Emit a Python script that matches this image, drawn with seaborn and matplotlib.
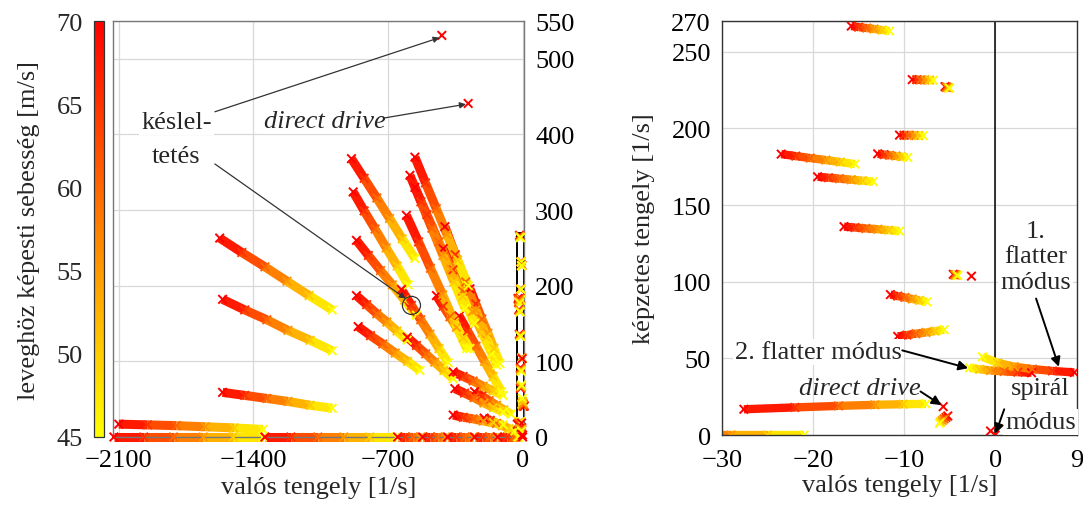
import matplotlib
matplotlib.use("Agg")
import matplotlib.pyplot as plt
import numpy as np
import pandas as pd
import seaborn as sns
from matplotlib.cm import ScalarMappable
from matplotlib.collections import LineCollection
from matplotlib.colors import Normalize
from matplotlib.patches import Rectangle

nan = np.nan

# airspeed of each locus point [m/s], red (70) -> yellow (45)
SPEEDS = [70, 65, 60, 55, 50, 45]

# --- wide view: (real parts, imaginary parts) per branch ---
DELAY = ([-420, nan, nan, nan, nan, nan], [531, nan, nan, nan, nan, nan])
DIRECT_WIDE = ([-283, nan, nan, nan, nan, nan], [441, nan, nan, nan, nan, nan])
P1 = ([-1575, -1460, -1340, -1225, -1110, -990], [263, 244, 225, 206, 187, 168])
P2 = ([-1560, -1445, -1330, -1220, -1105, -990], [182, 168, 155, 141, 128, 114])
P3 = ([-1560, -1445, -1330, -1220, -1105, -990], [59, 55, 51, 47, 42, 38])
P4 = ([-2100, -1950, -1800, -1650, -1500, -1350], [17, 16, 15, 13.5, 12, 10])
RA = ([-2125, -1970, -1815, -1660, -1505, -1350], [0, 0, 0, 0, 0, 0])
RB = ([-1340, -1205, -1065, -930, -795, -656], [0, 0, 0, 0, 0, 0])
S1 = ([-650, -610, -570, -530, nan, nan], [0, 0, 0, 0, nan, nan])
S2 = ([-520, -480, -440, -400, nan, nan], [0, 0, 0, 0, nan, nan])
S3 = ([-390, -345, -300, -257, nan, nan], [0, 0, 0, 0, nan, nan])
S4 = ([-250, -210, -170, -135, nan, nan], [0, 0, 0, 0, nan, nan])
S5 = ([-130, -80, -45, -29, -25, -21], [0, 0, 0, 0, 0, 0])
FA = ([-890, -824, -758, -692, -626, -560], [368, 342, 316, 289, 262, 236])
FB = ([-881, -824, -767, -709, -652, -595], [324, 299, 275, 250, 226, 201])
FC = ([-630, -578, -530, -482, -435, -387], [195, 174, 155, 136, 117, 98])
FD = ([-864, -802, -739, -677, -614, -552], [260, 240, 220, 201, 181, 161])
FE = ([-864, -811, -758, -706, -653, -600], [187, 175, 163, 152, 140, 128])
FF = ([-855, -791, -727, -662, -598, -534], [146, 134, 123, 111, 100, 88])
FG = ([-600, -552, -504, -457, -409, -361], [132, 121, 110, 99, 88, 77])
H1 = ([-560, -505, -449, -394, -338, -283], [370, 336, 302, 268, 234, 200])
H2 = ([-586, -529, -472, -414, -357, -300], [346, 311, 276, 240, 205, 170])
H3 = ([-604, -541, -479, -416, -354, -291], [293, 258, 223, 188, 152, 117])
H5 = ([-560, -498, -436, -374, -312, -250], [330, 294, 258, 222, 186, 150])
H6 = ([-404, -350, -296, -243, -189, -135], [278, 241, 205, 168, 132, 95])
H7 = ([-448, -413, -378, -344, -309, -274], [187, 173, 159, 145, 131, 117])
H8 = ([-274, -243, -212, -180, -149, -118], [196, 176, 156, 137, 117, 97])
H9 = ([-413, -362, -312, -261, -211, -160], [249, 221, 193, 166, 138, 110])
H10 = ([-330, -286, -242, -198, -154, -110], [160, 140, 120, 100, 80, 60])
K1 = ([-361, -309, -257, -205, -153, -101], [86, 80, 74, 67, 61, 55])
K2 = ([-352, -302, -252, -201, -151, -101], [64, 58, 52, 45, 39, 33])
K3 = ([-361, -309, -257, -205, -153, -101], [29, 26, 24, 21, 19, 16])
K4 = ([-250, -212, -174, -136, -98, -60], [60, 54, 48, 42, 36, 30])
K5 = ([-200, -168, -136, -104, -72, -40], [25, 22, 18, 15, 11, 8])

# --- low-frequency modes (visible in the zoomed view) ---
R1 = ([-15.8, -15.0, -14.1, -13.3, -12.4, -11.6], [266.7, 266.0, 265.4, 264.8, 264.1, 263.5])
R2 = ([-9.1, -8.6, -8.2, -7.7, -7.2, -6.8], [231.8, 231.7, 231.6, 231.6, 231.5, 231.4])
R3 = ([-5.5, -5.4, -5.3, -5.2, -5.1, -5.0], [227.2, 227.0, 226.8, 226.6, 226.4, 226.2])
R4 = ([-10.5, -10.0, -9.5, -8.9, -8.4, -7.9], [195.6, 195.5, 195.4, 195.4, 195.3, 195.2])
R5 = ([-12.9, -12.2, -11.6, -10.9, -10.3, -9.6], [183.4, 182.9, 182.4, 182.0, 181.5, 181.0])
R6 = ([-23.5, -21.9, -20.3, -18.6, -17.0, -15.4], [183.2, 181.9, 180.6, 179.3, 178.0, 176.7])
R7 = ([-19.5, -18.3, -17.1, -15.8, -14.6, -13.4], [168.4, 167.8, 167.2, 166.5, 165.9, 165.3])
R8 = ([-16.6, -15.4, -14.2, -12.9, -11.7, -10.5], [135.9, 135.3, 134.7, 134.2, 133.6, 133.0])
R9 = ([-4.6, -4.5, -4.4, -4.3, -4.2, -4.1], [104.8, 104.6, 104.5, 104.4, 104.2, 104.0])
R9B = ([-2.6, nan, nan, nan, nan, nan], [103.6, nan, nan, nan, nan, nan])
R10 = ([-11.5, -10.7, -9.9, -9.1, -8.3, -7.5], [91.6, 90.6, 89.7, 88.7, 87.8, 86.8])
R11 = ([-10.7, -9.7, -8.7, -7.6, -6.6, -5.6], [64.3, 65.2, 66.1, 66.9, 67.8, 68.7])
FLUTTER1 = ([8.7, 6.3, 4.1, 2.1, 0.3, -1.4], [40.8, 41.8, 43.0, 44.6, 47.0, 51.0])
FLUTTER2 = ([4.0, 2.5, 1.0, -0.5, -1.7, -2.8], [40.6, 41.0, 41.5, 42.1, 42.9, 43.8])
DRIVE = ([-27.6, -22.0, -17.2, -13.2, -10.1, -7.6], [16.8, 18.0, 19.0, 19.7, 20.1, 20.3])
DIRECT_ZOOM = ([-5.7, nan, nan, nan, nan, nan], [18.5, nan, nan, nan, nan, nan])
R15 = ([-5.2, -5.4, -5.6, -5.8, -6.0, -6.1], [12.4, 11.5, 10.5, 9.5, 8.5, 7.6])
SPIRAL_A = ([-0.5, nan, nan, nan, nan, nan], [2.6, nan, nan, nan, nan, nan])
SPIRAL_B = ([0.0, nan, nan, nan, nan, nan], [0.0, nan, nan, nan, nan, nan])

BRANCHES = [P4, RA, RB, S1, S2, S3, S4, S5, P3, P2, P1, FF, FE, FG, FD, FB, FC, FA,
            K5, K4, K3, K2, K1, H10, H9, H8, H7, H6, H5, H3, H2, H1, DELAY, DIRECT_WIDE,
            R1, R2, R3, R4, R5, R6, R7, R8, R9, R9B, R10, R11, FLUTTER2, FLUTTER1,
            DRIVE, DIRECT_ZOOM, R15, SPIRAL_A, SPIRAL_B]

rows = []
for k, (re, im) in enumerate(BRANCHES):
    for s, x, y in zip(SPEEDS, re, im):
        if not np.isnan(x):
            rows.append({"branch": k, "speed": s, "re": x, "im": y})
loci = pd.DataFrame(rows)

CMAP = plt.get_cmap("autumn_r")
NORM = Normalize(45, 70)
FS = 19


def draw_loci(ax, lw, clip):
    for _, g in loci.groupby("branch", sort=False):
        if len(g) < 2:
            continue
        pts = g[["re", "im"]].to_numpy()
        segs = np.stack([pts[:-1], pts[1:]], axis=1)
        mid = (g["speed"].to_numpy()[:-1] + g["speed"].to_numpy()[1:]) / 2
        lc = LineCollection(segs, colors=CMAP(NORM(mid)), linewidths=lw,
                            capstyle="butt", zorder=2)
        lc.set_clip_on(clip)
        ax.add_collection(lc)
    sns.scatterplot(data=loci, x="re", y="im", hue="speed", palette="autumn_r",
                    hue_norm=(45, 70), marker="x", s=38, linewidth=1.4,
                    legend=False, ax=ax, zorder=3, clip_on=clip)


sns.set_theme(style="whitegrid")
plt.rcParams.update({
    "font.family": ["Liberation Serif", "DejaVu Serif"],
    "mathtext.fontset": "stix",
    "axes.unicode_minus": True,
})

fig = plt.figure(figsize=(10.83, 5.06), dpi=100)
ax1 = fig.add_axes([0.1043, 0.1344, 0.3795, 0.8221])
cax = fig.add_axes([0.0868, 0.1344, 0.0092, 0.8221])
ax2 = fig.add_axes([0.6667, 0.1383, 0.3278, 0.8182])

for ax in (ax1, ax2):
    ax.set_facecolor("white")
    ax.grid(True, color="#d8d8d8", linewidth=0.9)
    for sp in ax.spines.values():
        sp.set_color("#777777")
        sp.set_linewidth(1.0)
    ax.tick_params(labelsize=FS, length=0, colors="black")

# ---- left: full root locus ----
draw_loci(ax1, 6.5, clip=False)
ax1.add_patch(Rectangle((-30, 0), 39, 270, fill=False, edgecolor="black", lw=1.4, zorder=2.5))
ax1.set_xlim(-2130, 7)
ax1.set_ylim(0, 550)
ax1.set_xticks([-2100, -1400, -700, 0])
ax1.set_yticks([0, 100, 200, 300, 400, 500, 550])
ax1.yaxis.tick_right()
ax1.tick_params(axis="y", pad=8)
ax1.tick_params(axis="x", pad=9)
ax1.set_xlabel("valós tengely [1/s]", fontsize=FS, labelpad=3)
ax1.set_ylabel("")

box = dict(facecolor="white", edgecolor="none", pad=1.5)
thin = dict(arrowstyle="-|>", color="#333333", lw=0.9, mutation_scale=9, shrinkA=0, shrinkB=0)
ax1.text(-1800, 417, "késlel-", fontsize=FS, ha="center", va="center", bbox=box, zorder=4)
ax1.text(-1800, 372, "tetés", fontsize=FS, ha="center", va="center", bbox=box, zorder=4)
ax1.annotate("", xy=(DELAY[0][0] - 12, DELAY[1][0] - 3), xytext=(-1600, 430),
             arrowprops=thin, zorder=4)
circ_x, circ_y = FC[0][1], FC[1][1]
ax1.annotate("", xy=(circ_x - 30, circ_y + 9), xytext=(-1600, 361), arrowprops=thin, zorder=4)
ax1.scatter([circ_x], [circ_y], s=170, facecolors="none", edgecolors="#333333",
            linewidths=0.9, zorder=4)
ax1.text(-1030, 418, "direct drive", fontsize=FS, style="italic", ha="center", va="center",
         bbox=box, zorder=4)
ax1.annotate("", xy=(DIRECT_WIDE[0][0] - 12, DIRECT_WIDE[1][0] - 1), xytext=(-715, 422),
             arrowprops=thin, zorder=4)

# colour bar
cb = fig.colorbar(ScalarMappable(norm=NORM, cmap=CMAP), cax=cax, ticks=[45, 50, 55, 60, 65, 70])
cax.yaxis.set_ticks_position("left")
cax.yaxis.set_label_position("left")
cax.tick_params(labelsize=FS, length=0, pad=8)
cb.outline.set_edgecolor("#333333")
cb.outline.set_linewidth(0.9)
cb.set_label("leveghöz képesti sebesség [m/s]", fontsize=FS, labelpad=12)

# ---- right: zoom near the origin ----
draw_loci(ax2, 6, clip=True)
ax2.axvline(0, color="black", lw=1.1, zorder=1)
ax2.set_xlim(-30, 9)
ax2.set_ylim(0, 270)
ax2.set_xticks([-30, -20, -10, 0, 9])
ax2.set_yticks([0, 50, 100, 150, 200, 250, 270])
ax2.tick_params(axis="y", pad=8)
ax2.tick_params(axis="x", pad=10)
ax2.set_xlabel("valós tengely [1/s]", fontsize=FS, labelpad=2)
ax2.set_ylabel("képzetes tengely [1/s]", fontsize=FS, labelpad=12)
for sp in ax2.spines.values():
    sp.set_color("#333333")

bold = dict(arrowstyle="-|>", color="black", lw=1.4, mutation_scale=14, shrinkA=0, shrinkB=0)
ax2.text(4.46, 116.5, "1.\nflatter\nmódus", fontsize=FS, ha="center", va="center",
         linespacing=1.2, bbox=box, zorder=4)
ax2.annotate("", xy=(7.0, 44.5), xytext=(4.5, 89), arrowprops=bold, zorder=4)
ax2.text(-19.4, 53.9, "2. flatter módus", fontsize=FS, ha="center", va="center",
         bbox=box, zorder=4)
ax2.annotate("", xy=(-2.96, 43.6), xytext=(-10.2, 55.2), arrowprops=bold, zorder=4)
ax2.text(-14.9, 30.5, "direct drive", fontsize=FS, style="italic", ha="center", va="center",
         zorder=4)
ax2.annotate("", xy=(DIRECT_ZOOM[0][0] - 0.2, DIRECT_ZOOM[1][0] + 1), xytext=(-8.2, 28.4),
             arrowprops=bold, zorder=4)
ax2.text(5.0, 30.5, "spirál", fontsize=FS, ha="center", va="center", zorder=4)
ax2.text(5.0, 8.7, "módus", fontsize=FS, ha="center", va="center", bbox=box, zorder=4)
ax2.annotate("", xy=(0.05, 1.0), xytext=(1.0, 16.8), arrowprops=bold, zorder=4)

fig.savefig("out.png", dpi=100)
